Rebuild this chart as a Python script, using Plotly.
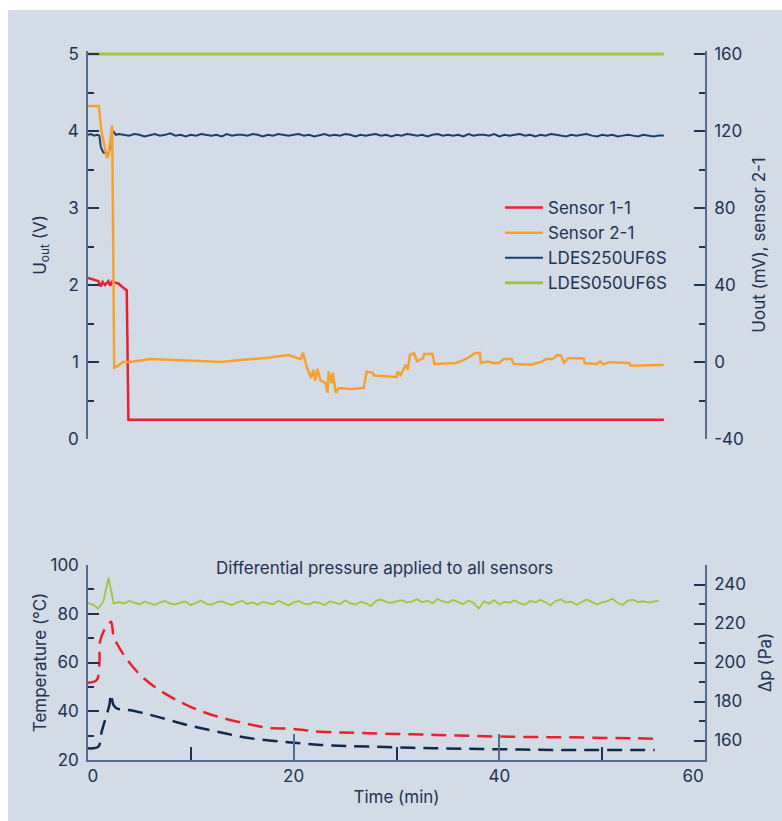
import plotly.graph_objects as go

# ---------------- data ----------------
# Top panel: output voltages (V) and sensor 2-1 (mV)
S11_T = [0, 1.0, 1.24, 1.43, 1.66, 1.98, 2.15, 2.37, 2.63, 2.96, 3.29, 3.77, 3.93, 56.0]
S11_V = [2.09, 2.05, 1.98, 2.04, 2.0, 2.05, 1.99, 2.05, 2.03, 2.02, 1.98, 1.93, 0.25, 0.25]

S21_T = [0, 1.05, 1.3, 1.6, 1.85, 2.0, 2.35, 2.55, 2.9, 3.4, 4.0, 5.5, 6.0, 10.9, 12.9, 14.8,
         17.5, 19.5, 20.7, 20.9, 21.3, 21.7, 21.9, 22.1, 22.3, 22.6, 23.1, 23.3, 23.4, 23.7,
         23.8, 24.1, 24.4, 25.6, 26.8, 27.1, 27.7, 27.8, 30.0, 30.1, 30.4, 30.9, 31.1, 31.3,
         31.7, 32.0, 32.6, 32.7, 33.5, 33.7, 35.8, 36.5, 37.1, 37.6, 38.1, 38.2, 38.9, 39.4,
         40.0, 40.4, 41.2, 41.4, 43.1, 44.1, 44.6, 45.2, 45.6, 46.0, 46.3, 46.7, 48.2, 48.3,
         49.5, 49.8, 50.1, 50.7, 52.6, 52.8, 56.0]
S21_MV = [133, 133, 120, 112, 106, 108, 123, -3, -2, 0, 0, 1, 1.5, 0.5, 0, 1,
          2.2, 3.6, 1.5, 4.8, -3.1, -8.3, -4, -9.7, -3.6, -9.4, -11, -16, -5, -11,
          -5.6, -16, -13.5, -14, -13.5, -5, -5.6, -7, -7.8, -5, -6.8, -1.5, -4, 3.6,
          4.7, 0.5, 2, 4.1, 4.1, -1, -0.5, 1, 2.6, 4.6, 4.8, -0.4, 0.2, -0.5,
          -0.5, 1.5, 1.5, -1, -1.4, 0.2, 1.5, 1.5, 3.6, 3.3, -0.4, 2, 2, -0.5,
          -1, 0.4, -1.2, -0.1, -0.5, -1.9, -1.6]

L250_T_START = [0, 0.3, 0.6, 0.9, 1.1, 1.25, 1.5, 1.75, 2.0, 2.15, 2.35, 2.5, 2.7, 3.0]
L250_V_START = [3.95, 3.96, 3.94, 3.95, 3.94, 3.79, 3.72, 3.71, 3.71, 3.80, 3.97, 3.99, 3.95, 3.96]
L250_STEP_START = 3.5   # sampling grid of the steady part (min)
L250_STEP = 0.5
L250_V_STEADY = [3.95, 3.94, 3.96, 3.95, 3.93, 3.95, 3.96, 3.94, 3.95, 3.97, 3.94, 3.95, 3.93,
                 3.95, 3.94, 3.96, 3.95, 3.94, 3.95, 3.93, 3.96, 3.94, 3.95, 3.95, 3.94, 3.96,
                 3.95, 3.93, 3.95, 3.94, 3.96, 3.95, 3.94, 3.95, 3.96, 3.94, 3.95, 3.93, 3.95,
                 3.96, 3.94, 3.95, 3.94, 3.96, 3.95, 3.93, 3.95, 3.94, 3.95, 3.96, 3.94, 3.95,
                 3.93, 3.95, 3.94, 3.96, 3.95, 3.94, 3.95, 3.93, 3.95, 3.96, 3.94, 3.95, 3.94,
                 3.95, 3.93, 3.96, 3.94, 3.95, 3.95, 3.94, 3.96, 3.93, 3.95, 3.94, 3.95, 3.96,
                 3.94, 3.95, 3.93, 3.95, 3.94, 3.96, 3.95, 3.94, 3.93, 3.95, 3.94, 3.95, 3.96,
                 3.94, 3.93, 3.95, 3.94, 3.95, 3.93, 3.94, 3.95, 3.94, 3.93, 3.95, 3.94, 3.93,
                 3.94, 3.94]

L050_T = [0, 56.0]
L050_V = [5.0, 5.0]

# Bottom panel: temperatures (°C) and differential pressure (Pa)
TR_T = [0, 0.85, 1.1, 1.17, 1.5, 1.88, 2.24, 2.47, 2.8, 3.6, 5.07, 6.7, 8.3, 10.3, 12.6,
        15.2, 17.4, 20.0, 22.6, 27.2, 33.7, 40.2, 46.7, 53.2, 55.7]
TR_C = [51.7, 52.8, 59.0, 68.5, 72.6, 75.0, 76.7, 71.3, 67.9, 62.4, 54.9, 49.4, 45.3, 41.2, 37.8,
        35.1, 33.3, 32.7, 31.6, 31.0, 30.3, 29.6, 29.3, 28.9, 28.7]

TN_T = [0, 1.0, 1.33, 1.76, 2.08, 2.24, 2.47, 2.8, 4.4, 6.7, 9.6, 12.6, 15.8, 20.0, 22.6,
        27.2, 33.7, 40.2, 46.7, 55.1]
TN_C = [24.8, 25.5, 31.6, 37.8, 42.6, 47.0, 42.6, 41.2, 40.2, 37.8, 34.4, 31.6, 28.9, 27.1, 26.2,
        25.5, 24.8, 24.4, 24.1, 24.1]

DP_STEP = 0.5   # sampling grid of pressure (min)
DP_PA = [230.5, 229.6, 227.6, 231.4, 243.5, 230.2, 231.0, 230.3, 231.6, 230.8, 229.9, 231.2, 230.4,
         229.6, 230.9, 231.5, 230.2, 229.8, 230.7, 231.3, 229.4, 230.6, 231.8, 230.1, 229.7, 230.9,
         231.4, 230.3, 229.5, 230.8, 231.6, 230.0, 230.9, 229.6, 231.2, 230.5, 229.9, 231.7, 230.4,
         229.3, 230.8, 231.5, 230.2, 229.8, 231.0, 230.6, 229.5, 231.3, 230.7, 230.0, 231.9, 230.4,
         229.7, 231.1, 230.5, 228.9, 231.6, 232.3, 231.0, 230.6, 231.4, 232.0, 230.8, 231.2, 232.5,
         230.9, 231.7, 230.4, 232.6, 231.3, 230.7, 232.1, 231.0, 229.9, 231.8, 230.5, 227.6, 231.4,
         230.2, 232.0, 229.8, 231.1, 230.6, 231.9, 230.3, 229.7, 231.5, 230.9, 232.2, 231.0, 229.4,
         231.6, 232.4, 230.7, 231.2, 229.6, 230.8, 232.3, 231.1, 229.8, 230.9, 231.5, 232.7, 230.6,
         229.5, 231.8, 232.2, 230.9, 231.4, 230.7, 231.2, 231.6]

X_TICKS = [0, 20, 40, 60]
X_TICK_TEXT = ["\u00a0\u00a00", "20", "40", "60\u00a0\u00a0\u00a0\u00a0\u00a0"]
MV_TICKS = [-40, 0, 40, 80, 120, 160]
MV_TICK_TEXT = ["-40", "0", "40", "80", "120", "160"]

# ---------------- style ----------------
W, H = 782, 821
BG = "#d3dbe6"
TXT = "#1b3354"
AX = "#556c8c"
RED = "#e8212e"
ORANGE = "#f7a12c"
DBLUE = "#17406a"
NAVY = "#0f2a4f"
GREEN = "#9cc93a"
FONT = "Inter"

def px_x(p):
    return p / W

def px_y(p):
    return 1 - p / H

# top panel: 0..5 V maps to y=439..54 px; add a small headroom so the 5 V line is not clipped
V_PX = (439 - 54) / 5.0
HEAD = 0.04
XDOM = [px_x(88), px_x(705)]
TOP_DOM = [px_y(439), px_y(54 - HEAD * V_PX)]
BOT_DOM = [px_y(760), px_y(565)]

L250_T = L250_T_START + [round(L250_STEP_START + L250_STEP * i, 2) for i in range(len(L250_V_STEADY))]
L250_V = L250_V_START + L250_V_STEADY
DP_T = [round(DP_STEP * i, 2) for i in range(len(DP_PA))]

fig = go.Figure()

fig.add_trace(go.Scatter(x=L050_T, y=L050_V, name="LDES050UF6S", mode="lines",
                         line=dict(color=GREEN, width=3), xaxis="x", yaxis="y", legendrank=4))
fig.add_trace(go.Scatter(x=L250_T, y=L250_V, name="LDES250UF6S", mode="lines",
                         line=dict(color=DBLUE, width=2), xaxis="x", yaxis="y", legendrank=3))
fig.add_trace(go.Scatter(x=S11_T, y=S11_V, name="Sensor 1-1", mode="lines",
                         line=dict(color=RED, width=2.5), xaxis="x", yaxis="y", legendrank=1))
fig.add_trace(go.Scatter(x=S21_T, y=S21_MV, name="Sensor 2-1", mode="lines",
                         line=dict(color=ORANGE, width=2.5), xaxis="x", yaxis="y2", legendrank=2))

fig.add_trace(go.Scatter(x=DP_T, y=DP_PA, mode="lines", showlegend=False,
                         line=dict(color=GREEN, width=1.8), xaxis="x2", yaxis="y4"))
fig.add_trace(go.Scatter(x=TR_T, y=TR_C, mode="lines", showlegend=False, line_shape="spline",
                         line=dict(color=RED, width=2.5, dash="15px,8px"), xaxis="x2", yaxis="y3"))
fig.add_trace(go.Scatter(x=TN_T, y=TN_C, mode="lines", showlegend=False, line_shape="spline",
                         line=dict(color=NAVY, width=2.5, dash="15px,8px"), xaxis="x2", yaxis="y3"))

tickfont = dict(family=FONT, size=17, color=TXT)
titlefont = dict(family=FONT, size=17, color=TXT)

def yax(**kw):
    d = dict(showgrid=False, zeroline=False, showline=True, linecolor=AX, linewidth=1.5,
             ticks="inside", ticklen=11, tickwidth=1.5, tickcolor=TXT, tickfont=tickfont,
             ticklabelstandoff=4, automargin=False, fixedrange=True)
    d.update(kw)
    return d

def minor(dt):
    return dict(dtick=dt, ticklen=6, ticks="inside", tickcolor=TXT, tickwidth=1.5)

fig.update_layout(
    width=W, height=H,
    margin=dict(l=0, r=0, t=0, b=0),
    paper_bgcolor="white", plot_bgcolor="rgba(0,0,0,0)",
    font=dict(family=FONT, color=TXT),
    template="none",
    shapes=[dict(type="rect", xref="paper", yref="paper", x0=px_x(8), x1=1, y0=0, y1=px_y(10),
                 fillcolor=BG, line=dict(width=0), layer="below")],
    xaxis=dict(domain=XDOM, range=[0, 60], anchor="y", visible=False, fixedrange=True),
    yaxis=yax(domain=TOP_DOM, range=[0, 5 + HEAD], anchor="x", tickvals=[0, 1, 2, 3, 4, 5],
              minor=minor(0.5),
              title=dict(text="U<sub>out</sub> (V)", font=titlefont, standoff=17)),
    yaxis2=yax(domain=TOP_DOM, range=[-40, 160 + HEAD * 40], anchor="x", overlaying="y",
               side="right", tickvals=MV_TICKS, ticktext=MV_TICK_TEXT, minor=minor(20),
               title=dict(text="Uout (mV), sensor 2-1", font=titlefont, standoff=10)),
    xaxis2=dict(domain=XDOM, range=[0, 60], anchor="y3", showgrid=False, zeroline=False,
                showline=True, linecolor=AX, linewidth=1.5, ticks="inside", ticklen=26,
                tickwidth=1.5, tickcolor=AX, tickvals=X_TICKS, ticktext=X_TICK_TEXT,
                tickfont=tickfont,
                minor=dict(dtick=10, ticklen=13, ticks="inside", tickcolor=TXT, tickwidth=1.5),
                ticklabelstandoff=0, automargin=False, fixedrange=True,
                title=dict(text="Time (min)", font=titlefont, standoff=6)),
    yaxis3=yax(domain=BOT_DOM, range=[20, 100], anchor="x2", dtick=20, tick0=0,
               minor=minor(10),
               title=dict(text="Temperature (°C)", font=titlefont, standoff=0)),
    yaxis4=yax(domain=BOT_DOM, range=[150, 250], anchor="x2", overlaying="y3", side="right",
               dtick=20, tick0=0, minor=minor(10),
               title=dict(text="Δp (Pa)", font=titlefont, standoff=14)),
    legend=dict(x=px_x(500), y=px_y(190), xanchor="left", yanchor="top",
                bgcolor="rgba(0,0,0,0)", borderwidth=0, itemwidth=38,
                font=dict(family=FONT, size=17, color=TXT), tracegroupgap=0),
    annotations=[dict(text="Differential pressure applied to all sensors", xref="paper", yref="paper",
                      x=px_x(384), y=px_y(568), xanchor="center", yanchor="middle", showarrow=False,
                      font=dict(family=FONT, size=17, color=TXT))],
)

fig.write_html(
    "out.html",
    config={"displayModeBar": False},
    post_script=("document.documentElement.style.overflow='hidden';"
                 "document.body.style.overflow='hidden';"
                 "document.body.style.margin='0';"),
)
